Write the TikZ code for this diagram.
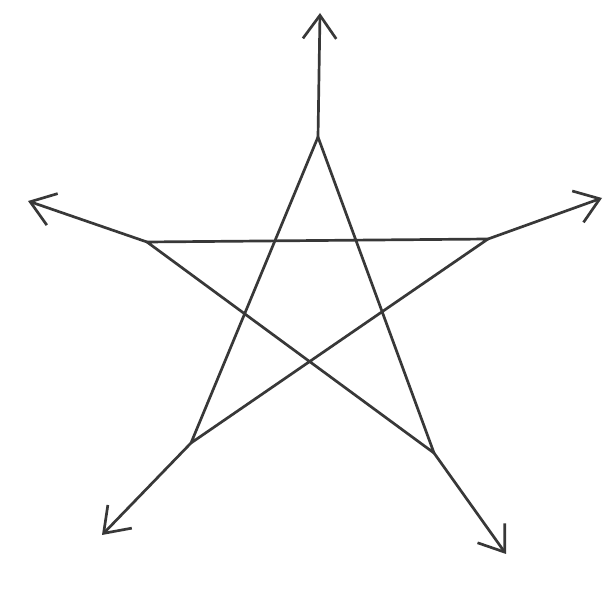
\documentclass[tikz,border=0pt]{standalone}
\usepackage{tikz}
\usetikzlibrary{arrows.meta}

\begin{document}
\begin{tikzpicture}[
    x=0.03cm, y=-0.03cm,
    stroke/.style={line width=2.3pt, draw=black!78, line join=round, line cap=round},
    arrow/.style={stroke, -{Straight Barb[length=7mm, width=10mm, line width=2.3pt]}}
  ]
  \useasboundingbox (0,0) rectangle (605,596);

  % Star points
  \coordinate (top) at (318,137);
  \coordinate (left) at (147,242);
  \coordinate (right) at (488,239);
  \coordinate (botleft) at (191,443);
  \coordinate (botright) at (434,453);

  % Arrow ends
  \coordinate (topend) at (320,13);
  \coordinate (leftend) at (28,201);
  \coordinate (rightend) at (602,198);
  \coordinate (botleftend) at (102,535);
  \coordinate (botrightend) at (506,554);

  % Pentagram
  \draw[stroke] (top) -- (botleft) -- (right) -- (left) -- (botright) -- cycle;

  % Outgoing arrows
  \draw[arrow] (top) -- (topend);
  \draw[arrow] (left) -- (leftend);
  \draw[arrow] (right) -- (rightend);
  \draw[arrow] (botleft) -- (botleftend);
  \draw[arrow] (botright) -- (botrightend);

\end{tikzpicture}
\end{document}
